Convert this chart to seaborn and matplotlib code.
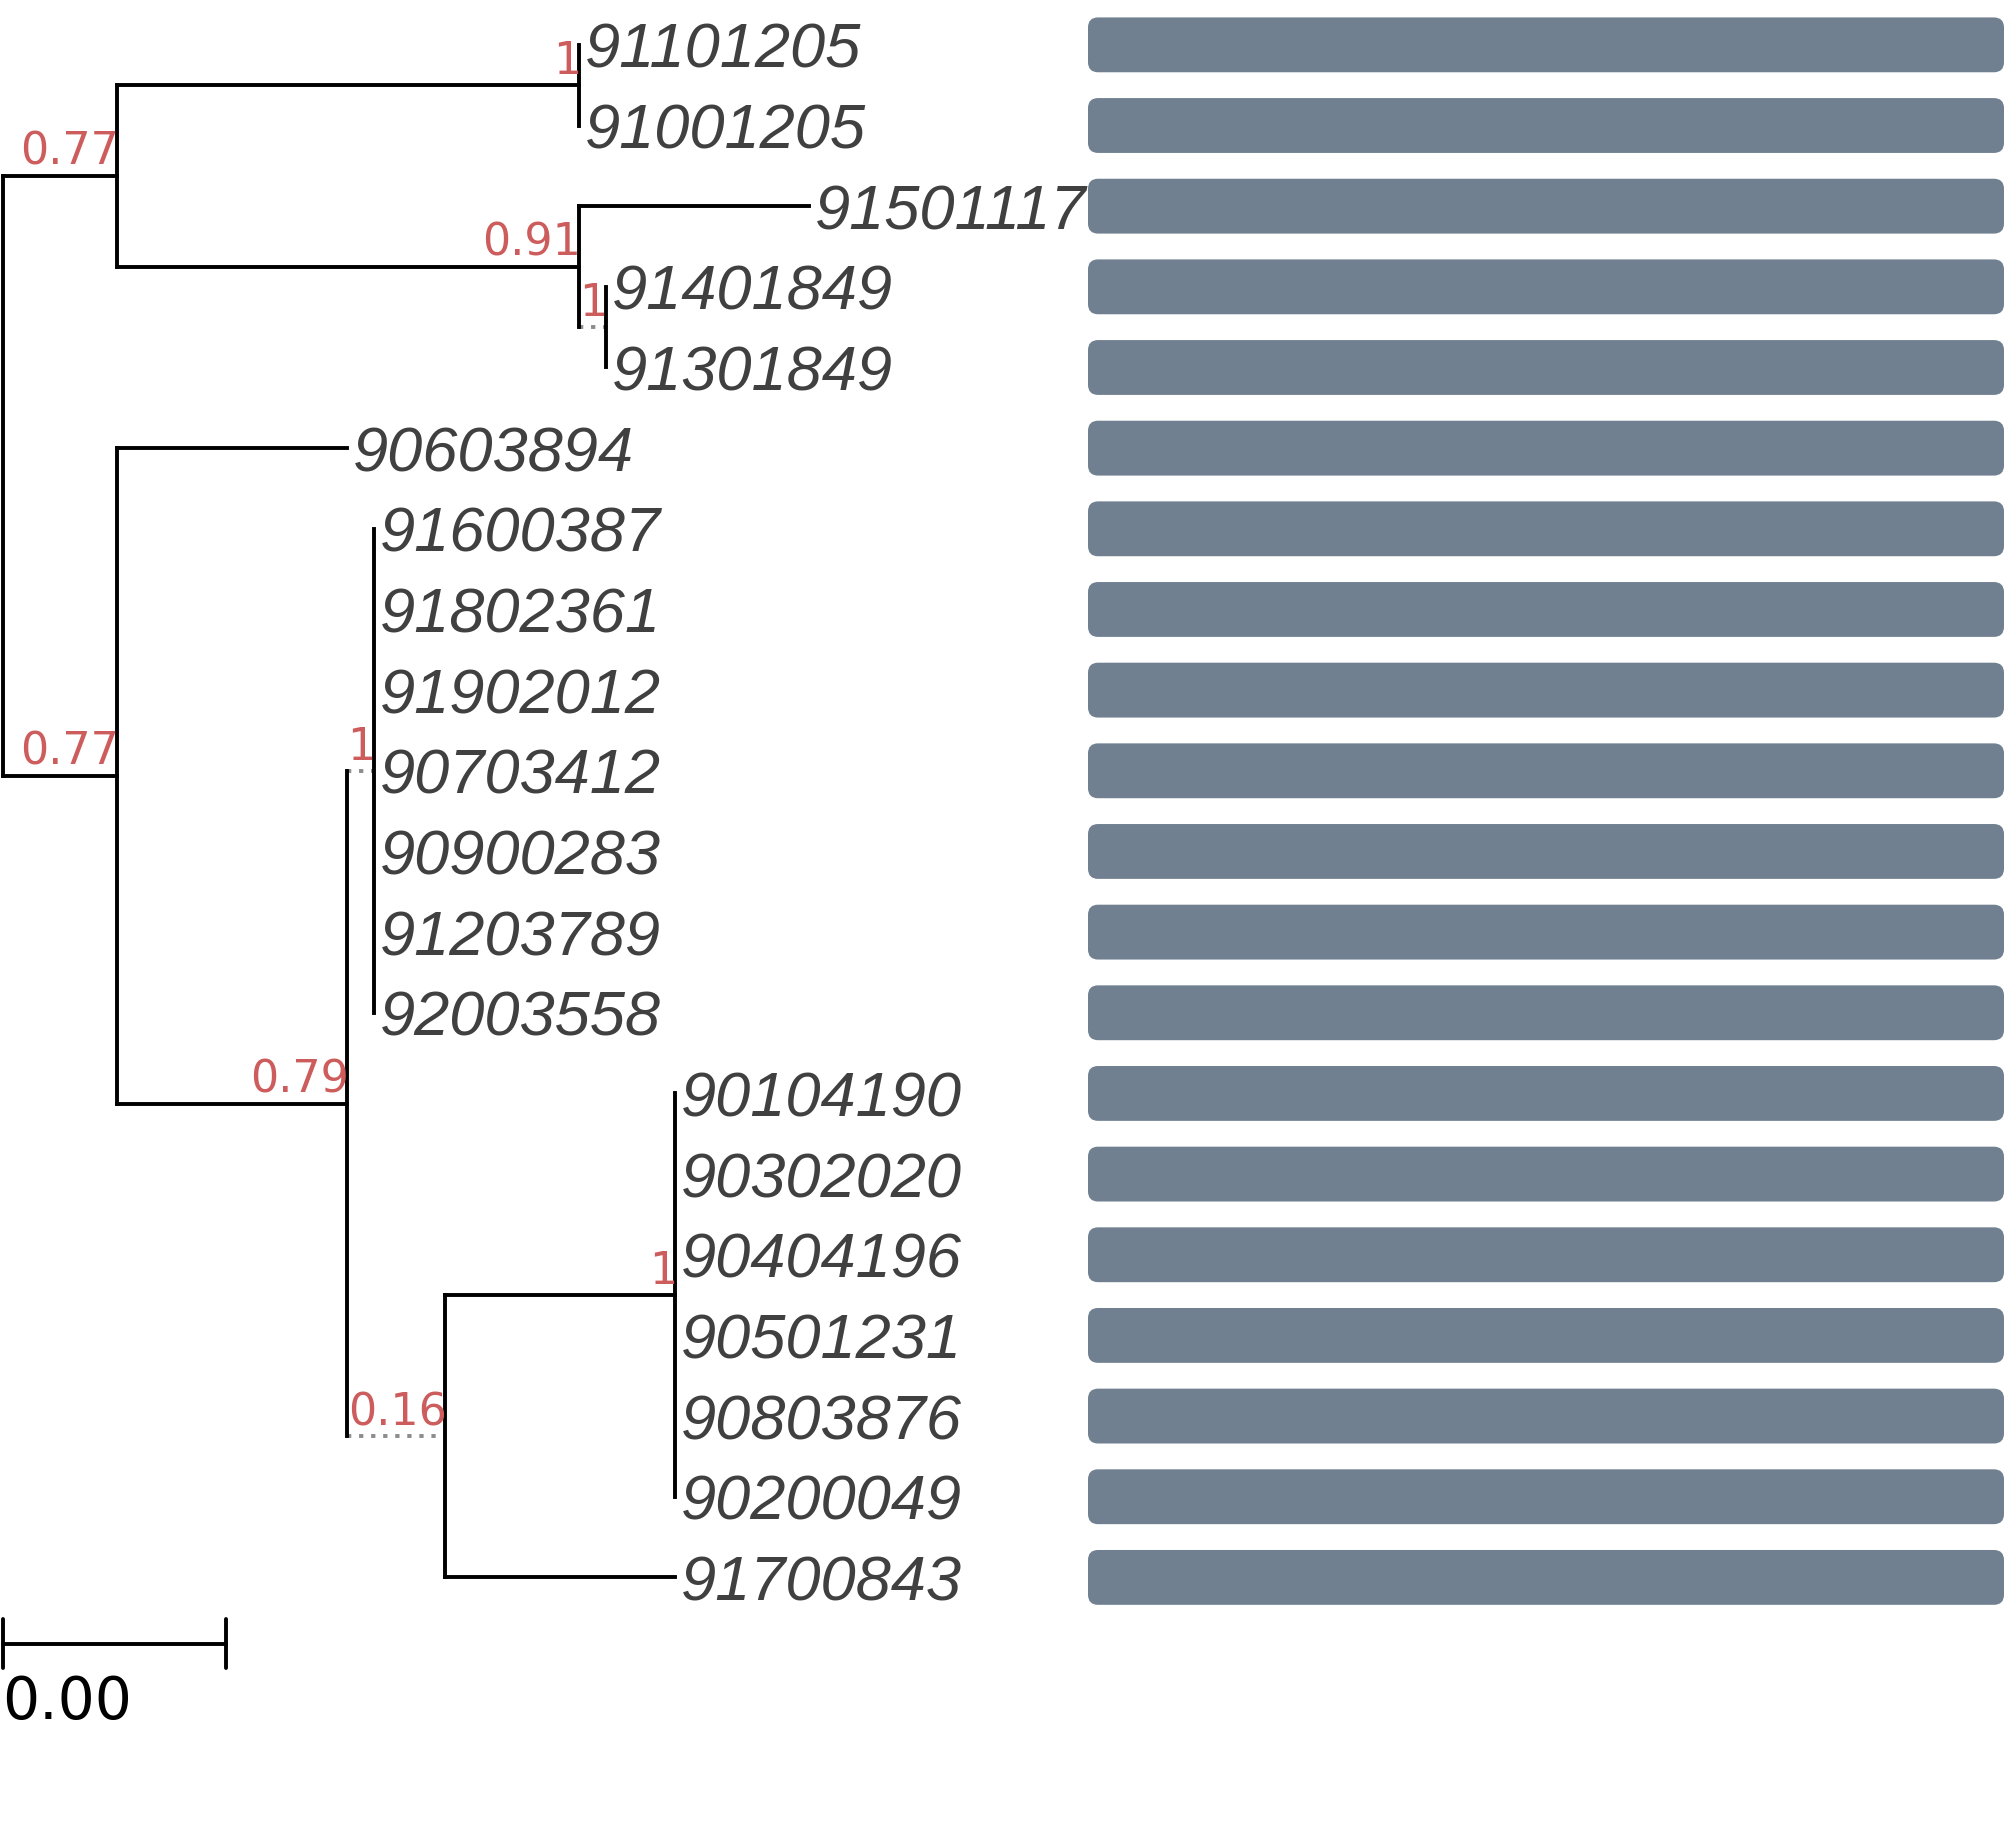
import matplotlib
matplotlib.use("Agg")
import matplotlib.pyplot as plt
from matplotlib.patches import FancyBboxPatch
import seaborn as sns
import pandas as pd

# tips, top to bottom
tip_labels = ["91101205", "91001205", "91501117", "91401849", "91301849",
              "90603894", "91600387", "91802361", "91902012", "90703412",
              "90900283", "91203789", "92003558", "90104190", "90302020",
              "90404196", "90501231", "90803876", "90200049", "91700843"]
bar_values = [1, 1, 1, 1, 1, 1, 1, 1, 1, 1, 1, 1, 1, 1, 1, 1, 1, 1, 1, 1]

# tree edges (parent -> child, branch length)
edge_parent = ["root", "A", "P1", "P1", "A", "G", "G", "H", "H",
               "root", "B", "B", "C", "D", "D", "D", "D", "D", "D", "D",
               "C", "E", "F", "F", "F", "F", "F", "F", "E"]
edge_child = ["A", "P1", "91101205", "91001205", "G", "91501117", "H", "91401849", "91301849",
              "B", "90603894", "C", "D", "91600387", "91802361", "91902012", "90703412",
              "90900283", "91203789", "92003558",
              "E", "F", "90104190", "90302020", "90404196", "90501231", "90803876",
              "90200049", "91700843"]
edge_length = [0.00103, 0.00414, 0.0, 0.0, 0.00414, 0.00206, 0.00024, 0.0, 0.0,
               0.00103, 0.00206, 0.00206, 0.00024, 0.0, 0.0, 0.0, 0.0, 0.0, 0.0, 0.0,
               0.00088, 0.00206, 0.0, 0.0, 0.0, 0.0, 0.0, 0.0, 0.00206]
dotted_edges = ["H", "D", "E"]

support_nodes = ["A", "P1", "G", "H", "B", "C", "D", "E", "F"]
support_values = ["0.77", "1", "0.91", "1", "0.77", "0.79", "1", "0.16", "1"]

scale_width = 0.002

sns.set_style("white")

# layout: x from branch lengths, y from tip order
xpos = {"root": 0.0}
children = {}
for p, c, l in zip(edge_parent, edge_child, edge_length):
    xpos[c] = xpos[p] + l
    children.setdefault(p, []).append(c)

ypos = {t: i for i, t in enumerate(tip_labels)}


def get_y(n):
    if n not in ypos:
        ys = [get_y(c) for c in children[n]]
        ypos[n] = sum(ys) / len(ys)
    return ypos[n]


get_y("root")

fig = plt.figure(figsize=(20.07, 18.46), dpi=100)
ax = fig.add_axes([0, 0, 1, 1])
ax_bar = fig.add_axes([1088 / 2007, 0, 916 / 2007, 1])

ylim = (22.33, -0.556)
lw = 2.8

# horizontal branches
for p, c in zip(edge_parent, edge_child):
    if c in dotted_edges:
        ax.plot([xpos[p], xpos[c]], [ypos[c], ypos[c]], color="#8c8c8c", lw=lw,
                linestyle=(0, (1.1, 2.0)), solid_capstyle="butt")
    else:
        ax.plot([xpos[p], xpos[c]], [ypos[c], ypos[c]], color="black", lw=lw,
                solid_capstyle="projecting")

# vertical connectors
for n, ch in children.items():
    ys = [ypos[c] for c in ch]
    ax.plot([xpos[n], xpos[n]], [min(ys), max(ys)], color="black", lw=lw,
            solid_capstyle="projecting")

# tip labels
for t in tip_labels:
    ax.annotate(t, (xpos[t], ypos[t]), xytext=(6, 0), textcoords="offset pixels",
                ha="left", va="center_baseline", fontsize=45.5, fontstyle="italic",
                family=["Liberation Sans", "DejaVu Sans"], color="#404040")

# node support
for n, v in zip(support_nodes, support_values):
    ax.annotate(v, (xpos[n], ypos[n]), xytext=(2, 11), textcoords="offset pixels",
                ha="right", va="baseline", fontsize=32, color="#CD5C5C",
                family=["DejaVu Sans"])

# scale bar
sy = 19.82
ax.plot([0, scale_width], [sy, sy], color="black", lw=lw)
ax.plot([0, 0], [sy - 0.3, sy + 0.3], color="black", lw=lw)
ax.plot([scale_width, scale_width], [sy - 0.3, sy + 0.3], color="black", lw=lw)
ax.text(0, sy + 0.38, "%.2f" % scale_width, ha="left", va="top", fontsize=42,
        color="black", family=["DejaVu Sans"])

ax.set_xlim(-2.3e-5, 0.017977)
ax.set_ylim(*ylim)
ax.axis("off")

# bars
df = pd.DataFrame({"tip": tip_labels, "value": bar_values})
sns.barplot(data=df, x="value", y="tip", color="#708090", saturation=1,
            width=0.68, ax=ax_bar)
ax_bar.set_xlim(0, 1)
ax_bar.set_ylim(*ylim)
for patch in list(ax_bar.patches):
    x0, y0 = patch.get_x(), patch.get_y()
    w, h = patch.get_width(), patch.get_height()
    patch.remove()
    ax_bar.add_patch(FancyBboxPatch((x0, y0), w, h,
                                    boxstyle="round,pad=0,rounding_size=0.011",
                                    mutation_aspect=11.36, fc="#708090", ec="none"))
ax_bar.axis("off")

fig.savefig("out.png", dpi=100, facecolor="white")
